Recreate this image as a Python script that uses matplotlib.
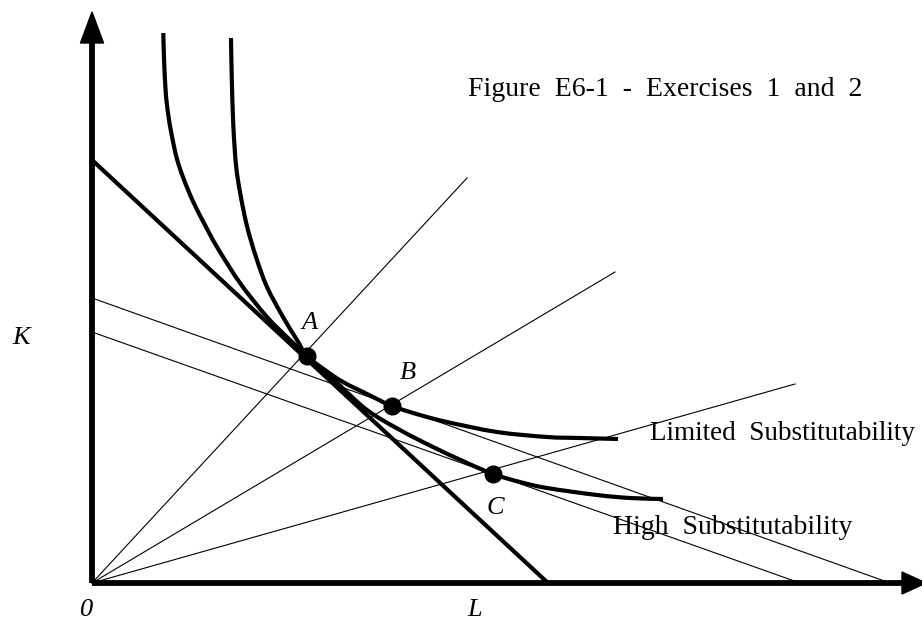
import matplotlib
matplotlib.use("Agg")
import matplotlib.pyplot as plt
from matplotlib.patches import Polygon, PathPatch
from matplotlib.path import Path

# ---- data (diagram units: L horizontal, K vertical) ----
isocost_L = [0.0, 45.6]
isocost_K = [42.3, 0.0]

budget_B_L = [0.0, 79.8]   # thin line tangent at B
budget_B_K = [28.5, 0.0]
budget_C_L = [0.0, 70.8]   # thin line tangent at C
budget_C_K = [25.1, 0.0]

ray_end_L = [37.5, 52.3, 70.3]
ray_end_K = [40.5, 31.1, 19.9]

high_L = [7.13, 7.2, 7.37, 7.63, 7.97, 8.47, 9.13, 10.13, 11.3, 12.5, 14.8, 17.5,
          19.8, 21.5, 24.3, 27.5, 30.8, 34.1, 37.3, 40.1, 42.8, 45.5, 50.5, 53.8, 57.1]
high_K = [55.0, 52.5, 49.1, 46.8, 44.8, 42.5, 40.5, 38.1, 35.8, 33.6, 30.0, 26.6,
          24.3, 22.7, 20.2, 17.3, 15.3, 13.6, 12.1, 10.9, 10.1, 9.5, 8.8, 8.5, 8.4]

lim_L = [13.9, 13.97, 14.13, 14.4, 14.8, 15.47, 16.4, 17.5, 19.1, 20.5, 21.5,
         23.3, 25.1, 27.5, 30.0, 32.8, 35.5, 40.5, 45.5, 48.8, 52.6]
lim_K = [54.5, 50.8, 45.8, 41.8, 39.1, 35.8, 32.6, 29.6, 26.6, 24.3, 22.7,
         21.3, 20.1, 18.9, 17.7, 16.8, 16.1, 15.1, 14.6, 14.5, 14.4]

point_names = ["A", "B", "C"]
point_L = [21.5, 30.0, 40.1]
point_K = [22.7, 17.7, 10.9]

title = "Figure  E6-1  -  Exercises  1  and  2"
label_limited = "Limited  Substitutability"
label_high = "High  Substitutability"


def smooth_path(xs, ys):
    """Cubic Bezier path through the read points (Catmull-Rom tangents)."""
    pts = list(zip(xs, ys))
    verts = [pts[0]]
    codes = [Path.MOVETO]
    n = len(pts)
    for i in range(n - 1):
        p0 = pts[i - 1] if i > 0 else pts[i]
        p1 = pts[i]
        p2 = pts[i + 1]
        p3 = pts[i + 2] if i + 2 < n else pts[i + 1]
        c1 = (p1[0] + (p2[0] - p0[0]) / 6.0, p1[1] + (p2[1] - p0[1]) / 6.0)
        c2 = (p2[0] - (p3[0] - p1[0]) / 6.0, p2[1] - (p3[1] - p1[1]) / 6.0)
        verts += [c1, c2, p2]
        codes += [Path.CURVE4] * 3
    return Path(verts, codes)


# ---- figure ----
fig = plt.figure(figsize=(9.22, 6.22), dpi=100)
ax = fig.add_axes([0, 0, 1, 1])
ax.set_xlim(-9.2, 83.0)
ax.set_ylim(-3.9, 58.3)
ax.axis("off")

serif = ["Liberation Serif", "DejaVu Serif"]

# axes
ax.plot([0, 81.5], [0, 0], color="black", lw=4.2, solid_capstyle="butt", zorder=5)
ax.plot([0, 0], [0, 54.5], color="black", lw=4.2, solid_capstyle="butt", zorder=5)
ax.add_patch(Polygon([[-1.15, 54.0], [1.15, 54.0], [0, 57.1]], closed=True,
                     color="black", zorder=6))
ax.add_patch(Polygon([[81.0, 1.1], [81.0, -1.1], [83.4, 0]], closed=True,
                     color="black", zorder=6))

# thin lines
for Le, Ke in zip(ray_end_L, ray_end_K):
    ax.plot([0, Le], [0, Ke], color="black", lw=0.8, zorder=2)
ax.plot(budget_B_L, budget_B_K, color="black", lw=0.8, zorder=2)
ax.plot(budget_C_L, budget_C_K, color="black", lw=0.8, zorder=2)

# thick lines
ax.plot(isocost_L, isocost_K, color="black", lw=3.0, solid_capstyle="butt", zorder=3)
for xs, ys in ((high_L, high_K), (lim_L, lim_K)):
    ax.add_patch(PathPatch(smooth_path(xs, ys), facecolor="none", edgecolor="black",
                           lw=3.0, capstyle="butt", joinstyle="round", zorder=3))

ax.plot(point_L, point_K, "o", color="black", markersize=12, zorder=7)

# labels
offs = {"A": (0.2, 3.3), "B": (1.6, 3.3), "C": (0.2, -3.4)}
for n, Lx, Ky in zip(point_names, point_L, point_K):
    dx, dy = offs[n]
    ax.text(Lx + dx, Ky + dy, n, family=serif, style="italic", fontsize=19,
            ha="center", va="center")

ax.text(37.6, 49.3, title, family=serif, fontsize=20, ha="left", va="center")
ax.text(55.8, 15.0, label_limited, family=serif, fontsize=19.5, ha="left", va="center")
ax.text(52.1, 5.5, label_high, family=serif, fontsize=20, ha="left", va="center")
ax.text(-7.1, 24.5, "K", family=serif, style="italic", fontsize=19, ha="center", va="center")
ax.text(-0.5, -2.7, "0", family=serif, style="italic", fontsize=19, ha="center", va="center")
ax.text(38.3, -2.7, "L", family=serif, style="italic", fontsize=19, ha="center", va="center")

fig.savefig("out.png", dpi=100)
